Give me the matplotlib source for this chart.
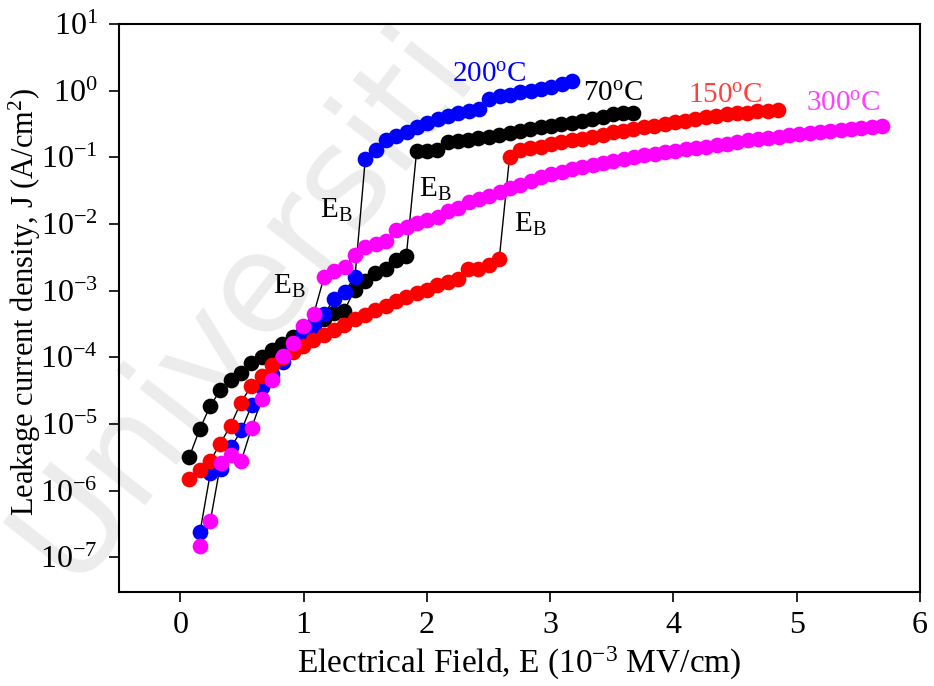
import math
import matplotlib
matplotlib.use("Agg")
import matplotlib.pyplot as plt
from matplotlib.ticker import FixedLocator, FuncFormatter, NullLocator

plt.rcParams['font.family'] = 'Liberation Serif'
plt.rcParams['mathtext.fontset'] = 'custom'
plt.rcParams['mathtext.rm'] = 'Liberation Serif'
plt.rcParams['mathtext.it'] = 'Liberation Serif:italic'

# 70 C
E_70 = [0.073, 0.157, 0.241, 0.324, 0.408, 0.492, 0.576, 0.660, 0.743, 0.827,
        0.911, 0.995, 1.079, 1.162, 1.246, 1.330, 1.414, 1.498, 1.581, 1.665,
        1.749, 1.833, 1.917, 2.000, 2.084, 2.168, 2.252, 2.336, 2.419, 2.503,
        2.587, 2.671, 2.755, 2.838, 2.922, 3.006, 3.090, 3.174, 3.257, 3.341,
        3.425, 3.509, 3.593, 3.676]
J_70 = [3.2e-6, 8.3e-6, 1.84e-5, 3.2e-5, 4.5e-5, 5.9e-5, 8.1e-5, 1.0e-4, 1.31e-4, 1.61e-4,
        1.99e-4, 2.36e-4, 2.9e-4, 3.8e-4, 4.6e-4, 5.0e-4, 1.04e-3, 1.42e-3, 1.87e-3, 2.08e-3,
        2.84e-3, 3.26e-3, 0.123, 0.126, 0.129, 0.168, 0.174, 0.185, 0.198, 0.205,
        0.22, 0.23, 0.246, 0.267, 0.282, 0.30, 0.318, 0.333, 0.356, 0.378,
        0.40, 0.44, 0.46, 0.47]

# 200 C
E_200 = [0.160, 0.244, 0.328, 0.411, 0.495, 0.579, 0.663, 0.747, 0.830, 0.914,
         0.998, 1.082, 1.166, 1.249, 1.333, 1.417, 1.501, 1.585, 1.668, 1.752,
         1.836, 1.920, 2.004, 2.087, 2.171, 2.255, 2.339, 2.423, 2.506, 2.590,
         2.674, 2.758, 2.842, 2.925, 3.009, 3.093, 3.177]
J_200 = [2.39e-7, 1.84e-6, 2.14e-6, 4.46e-6, 8.0e-6, 1.9e-5, 3.57e-5, 5.7e-5, 8.4e-5, 1.41e-4,
         2.28e-4, 3.1e-4, 4.5e-4, 7.4e-4, 9.7e-4, 1.6e-3, 0.095, 0.129, 0.183, 0.208,
         0.244, 0.29, 0.327, 0.375, 0.41, 0.47, 0.50, 0.53, 0.75, 0.82,
         0.875, 0.946, 1.0, 1.06, 1.12, 1.26, 1.38]

# 150 C
E_150 = [0.073, 0.157, 0.241, 0.324, 0.408, 0.492, 0.576, 0.660, 0.743, 0.827,
         0.911, 0.995, 1.079, 1.162, 1.246, 1.330, 1.414, 1.498, 1.581, 1.665,
         1.749, 1.833, 1.917, 2.000, 2.084, 2.168, 2.252, 2.336, 2.419, 2.503,
         2.587, 2.671, 2.755, 2.838, 2.922, 3.006, 3.090, 3.174, 3.257, 3.341,
         3.425, 3.509, 3.593, 3.676, 3.760, 3.844, 3.928, 4.012, 4.095, 4.179,
         4.263, 4.347, 4.431, 4.514, 4.598, 4.682, 4.766, 4.850]
J_150 = [1.49e-6, 2.04e-6, 2.75e-6, 5.07e-6, 9.5e-6, 2.1e-5, 3.72e-5, 5.26e-5, 7.7e-5, 9.8e-5,
         1.2e-4, 1.48e-4, 1.79e-4, 2.2e-4, 2.58e-4, 3.06e-4, 3.7e-4, 4.25e-4, 5.05e-4, 5.9e-4,
         7.0e-4, 8.05e-4, 9.25e-4, 1.04e-3, 1.2e-3, 1.33e-3, 1.5e-3, 2.08e-3, 2.1e-3, 2.39e-3,
         2.98e-3, 0.101, 0.129, 0.138, 0.145, 0.156, 0.168, 0.179, 0.189, 0.205,
         0.22, 0.238, 0.252, 0.267, 0.282, 0.30, 0.318, 0.336, 0.356, 0.378,
         0.40, 0.42, 0.44, 0.46, 0.47, 0.49, 0.50, 0.51]

# 300 C
E_300 = [0.160, 0.244, 0.328, 0.411, 0.495, 0.579, 0.663, 0.747, 0.830, 0.914,
         0.998, 1.082, 1.166, 1.249, 1.333, 1.417, 1.501, 1.585, 1.668, 1.752,
         1.836, 1.920, 2.004, 2.087, 2.171, 2.255, 2.339, 2.423, 2.506, 2.590,
         2.674, 2.758, 2.842, 2.925, 3.009, 3.093, 3.177, 3.261, 3.344, 3.428,
         3.512, 3.596, 3.680, 3.763, 3.847, 3.931, 4.015, 4.099, 4.182, 4.266,
         4.350, 4.434, 4.518, 4.601, 4.685, 4.769, 4.853, 4.937, 5.020, 5.104,
         5.188, 5.272, 5.356, 5.439, 5.523, 5.607, 5.691]
J_300 = [1.46e-7, 3.5e-7, 2.6e-6, 3.44e-6, 2.8e-6, 8.8e-6, 2.39e-5, 4.6e-5, 1.03e-4, 1.67e-4,
         2.96e-4, 4.4e-4, 1.6e-3, 1.94e-3, 2.3e-3, 3.43e-3, 4.45e-3, 4.93e-3, 5.56e-3, 8.0e-3,
         8.95e-3, 1.02e-2, 1.14e-2, 1.28e-2, 1.55e-2, 1.74e-2, 2.12e-2, 2.39e-2, 2.67e-2, 3.0e-2,
         3.49e-2, 3.9e-2, 4.49e-2, 5.04e-2, 5.66e-2, 6.12e-2, 6.68e-2, 7.28e-2, 7.8e-2, 8.36e-2,
         8.95e-2, 9.6e-2, 0.102, 0.107, 0.114, 0.12, 0.126, 0.132, 0.139, 0.145,
         0.153, 0.161, 0.169, 0.179, 0.188, 0.196, 0.205, 0.214, 0.223, 0.233,
         0.244, 0.252, 0.261, 0.27, 0.28, 0.29, 0.30]

series = [
    (E_70, J_70, 'black'),
    (E_200, J_200, 'blue'),
    (E_150, J_150, 'red'),
    (E_300, J_300, 'magenta'),
]

fig = plt.figure(figsize=(9.34, 6.86), dpi=100)
ax = fig.add_axes([0.127, 0.137, 0.858, 0.828])
ax.set_facecolor('none')

# faint watermark behind the axes
fig.text(0.26, 0.56, 'Universiti', rotation=52, fontsize=100, color='#ececec',
         family='DejaVu Sans', ha='center', va='center', zorder=-1)

for E, J, c in series:
    ax.plot(E, J, color='black', lw=1.0, zorder=2)
    ax.plot(E, J, ls='none', marker='o', ms=11.3, mfc=c, mec='none', zorder=3)

ax.set_yscale('log')
ax.set_xlim(-0.5, 6)
ax.set_ylim(10**-7.52, 10)

ax.xaxis.set_major_locator(FixedLocator([0, 1, 2, 3, 4, 5, 6]))
ax.yaxis.set_major_locator(FixedLocator([10.0**n for n in range(-7, 2)]))
ax.yaxis.set_minor_locator(NullLocator())
ax.yaxis.set_major_formatter(FuncFormatter(lambda v, p: r'10$^{%d}$' % round(math.log10(v))))
ax.tick_params(axis='both', direction='out', length=7, width=1.2, labelsize=23,
               top=False, right=False)
ax.tick_params(axis='x', pad=7)
ax.tick_params(axis='y', pad=8)
for s in ax.spines.values():
    s.set_linewidth(1.5)

ax.set_xlabel(r'Electrical Field, E (10$^{-3}$ MV/cm)', fontsize=24)
ax.set_ylabel(r'Leakage current density, J (A/cm$^{2}$)', fontsize=22)
ax.xaxis.set_label_coords(0.5, -0.094)
ax.yaxis.set_label_coords(-0.094, 0.51)

# temperature labels
ax.text(2.504, 1.74, r'200$^{\rm o}$C', color='blue', fontsize=21, ha='center', va='center')
ax.text(3.512, 0.906, r'70$^{\rm o}$C', color='black', fontsize=21, ha='center', va='center')
ax.text(4.423, 0.845, r'150$^{\rm o}$C', color='#ff4040', fontsize=21, ha='center', va='center')
ax.text(5.378, 0.63, r'300$^{\rm o}$C', color='#ff40ff', fontsize=21, ha='center', va='center')

# breakdown field markers
for x, y in [(1.264, 0.0159), (2.065, 0.0329), (0.886, 1.16e-3), (2.835, 9.84e-3)]:
    ax.text(x, y, r'E$_{\rm B}$', fontsize=21, ha='center', va='center')

fig.savefig('out.png', dpi=100)
